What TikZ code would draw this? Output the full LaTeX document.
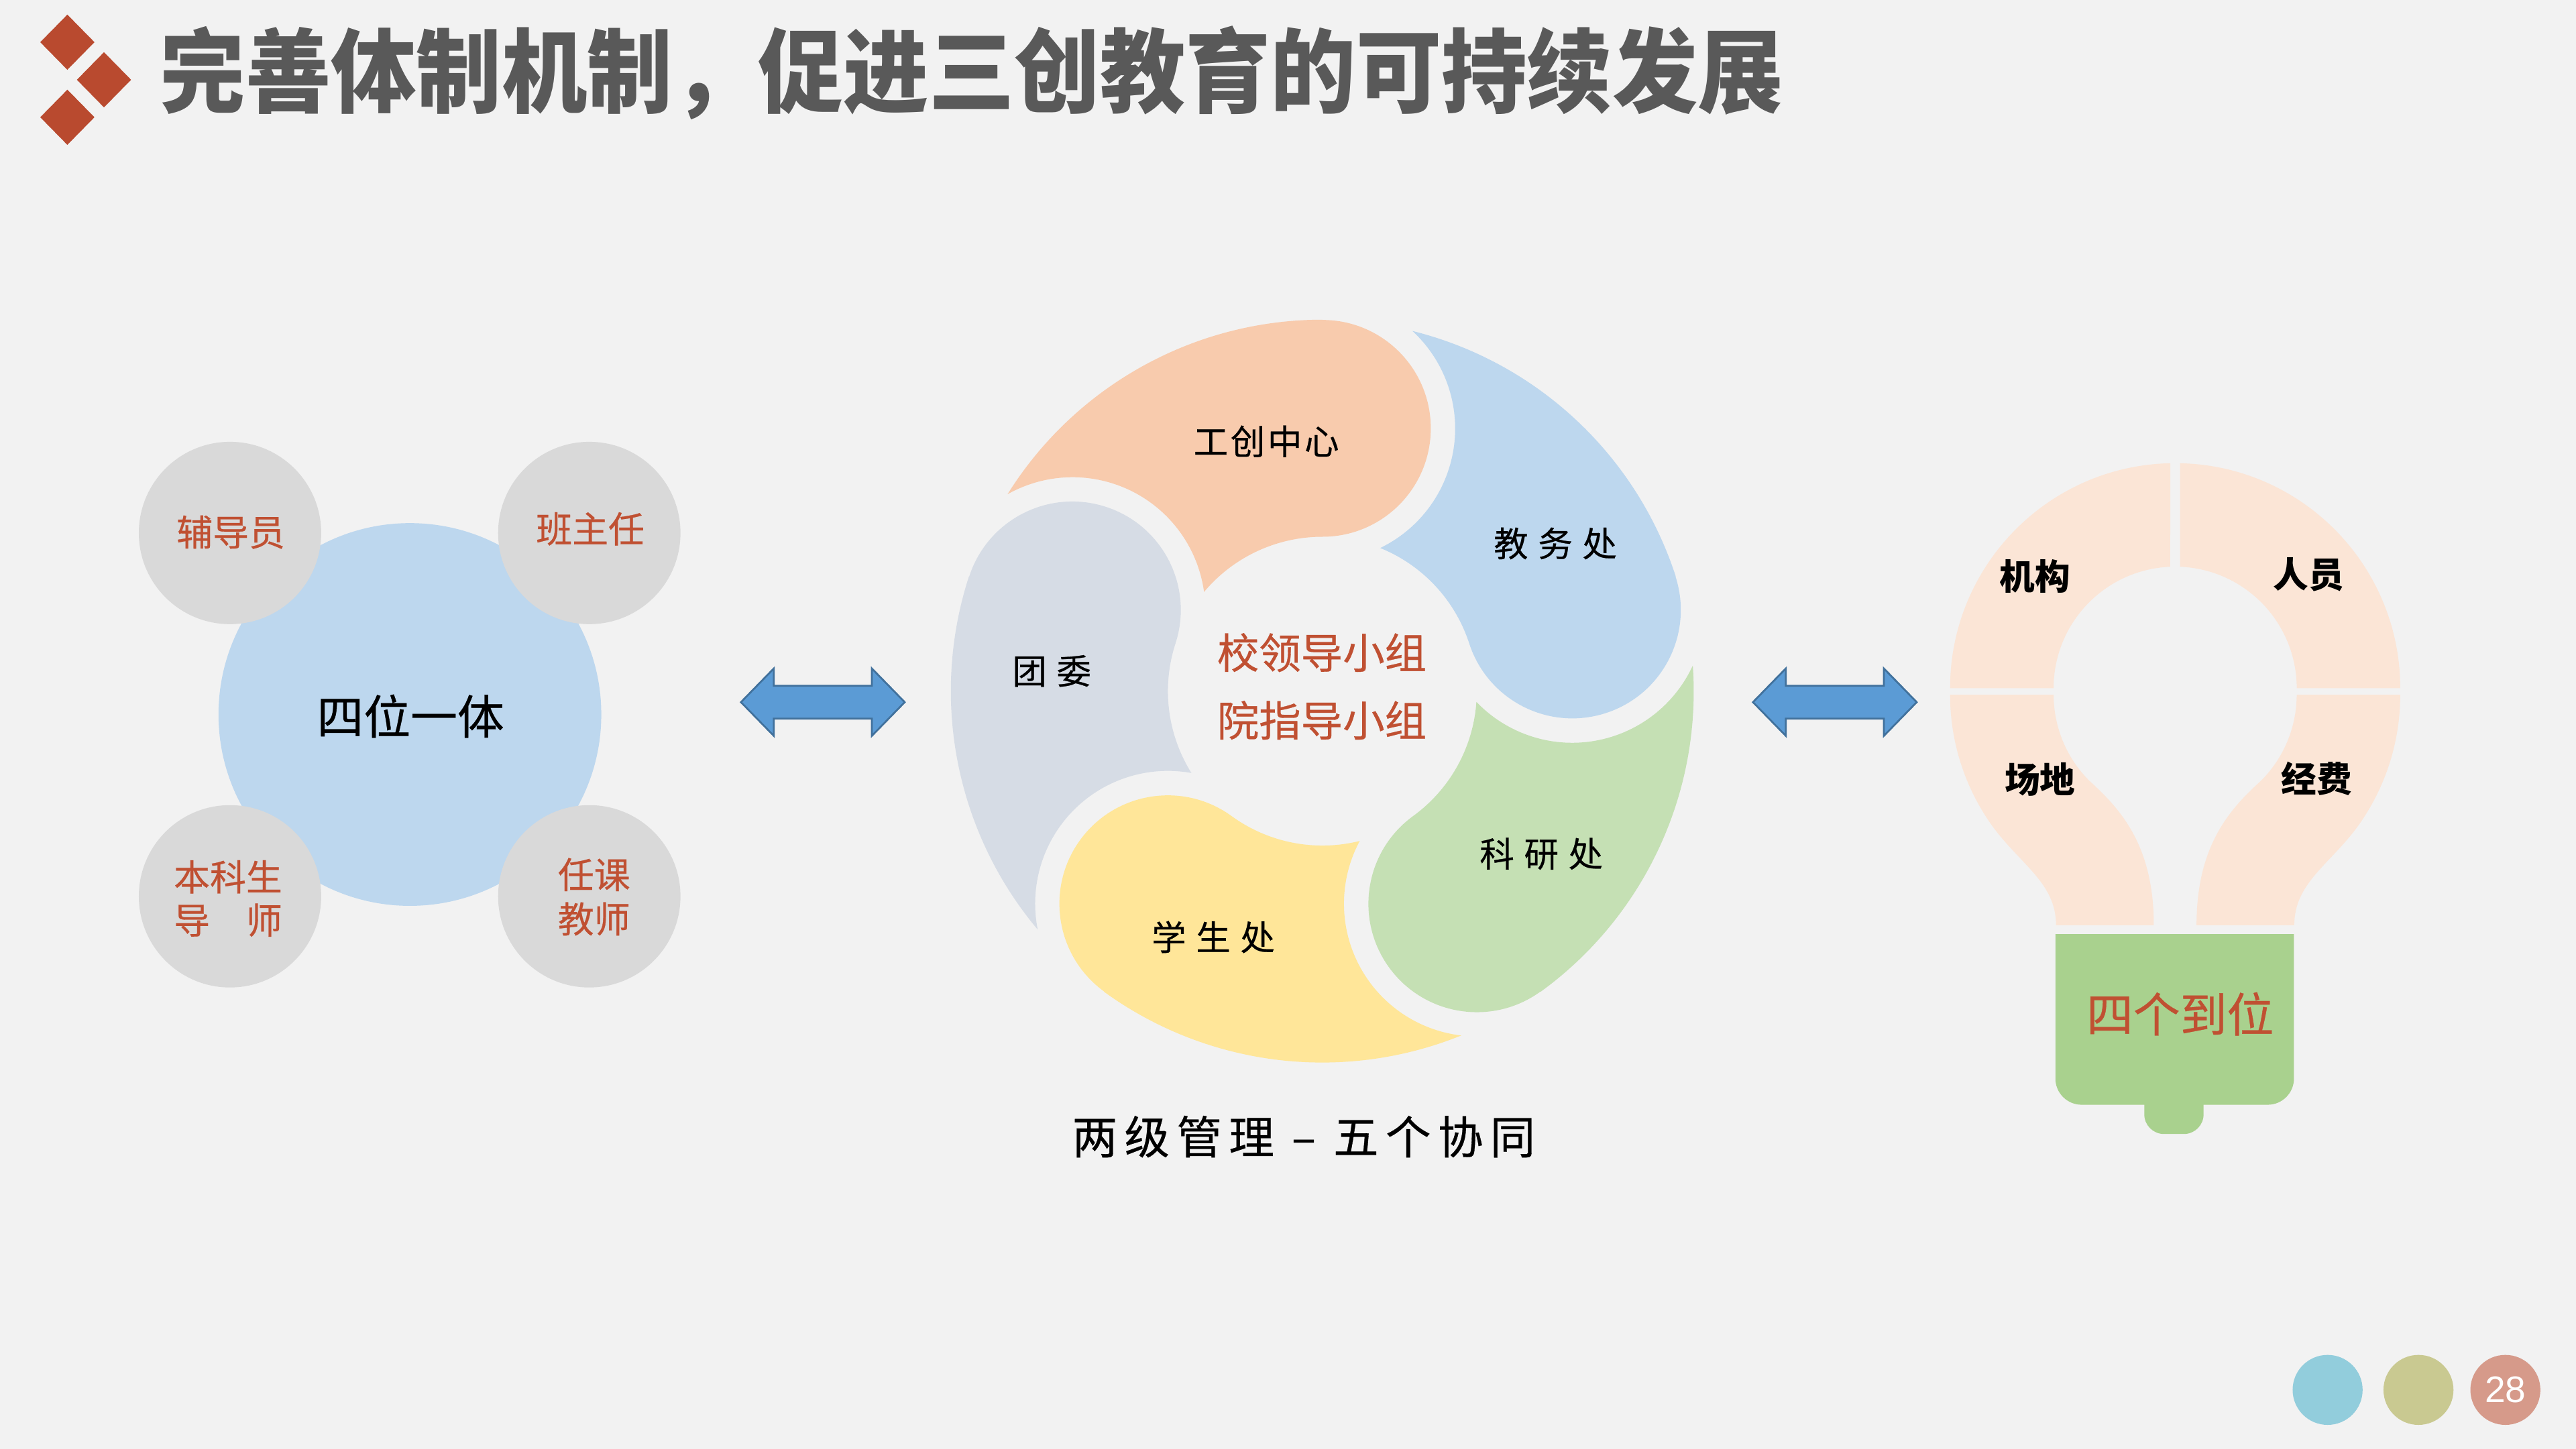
\documentclass[tikz,border=0pt]{standalone}
\usepackage{fontspec}
\usepackage{graphicx}
\newfontfamily\cjk{Noto Sans CJK SC}
\newfontfamily\cjkm[FakeBold=0.5]{Noto Sans CJK SC}
\newfontfamily\numf{Liberation Sans}
\definecolor{bg}{RGB}{242,242,242}
\definecolor{rustd}{RGB}{185,74,47}
\definecolor{rustt}{RGB}{192,80,50}
\definecolor{titlec}{RGB}{89,89,89}
\definecolor{bluec}{RGB}{189,215,238}
\definecolor{grayc}{RGB}{217,217,217}
\definecolor{orangeb}{RGB}{248,203,173}
\definecolor{greenb}{RGB}{197,224,180}
\definecolor{yellowb}{RGB}{255,230,153}
\definecolor{grayb}{RGB}{214,220,229}
\definecolor{peach}{RGB}{251,229,214}
\definecolor{basegreen}{RGB}{169,209,142}
\definecolor{arrowfill}{RGB}{91,155,213}
\definecolor{arrowline}{RGB}{65,113,156}
\definecolor{pcone}{RGB}{146,205,220}
\definecolor{pctwo}{RGB}{201,201,145}
\definecolor{pcthree}{RGB}{214,154,138}
\tikzset{
  txt/.style={inner sep=0pt, outer sep=0pt},
  rusttxt/.style={txt, text=rustt},
  blacktxt/.style={txt, text=black},
  arrowst/.style={fill=arrowfill, draw=arrowline, line width=1.1pt, line join=miter},
}
\newcommand\blade[2]{%
  \fill[#2] (#1:226) arc[start angle=#1, end angle=#1-180, radius=66]
    arc[start angle=#1, end angle=#1+50, radius=94]
    arc[start angle=#1-82.2, end angle=#1+29.3, radius=80.8]
    arc[start angle=#1+58, end angle=#1, radius=226] -- cycle;}
\newcommand\dblarrow[1]{%
  \filldraw[arrowst, shift={(#1,0)}] (451,454.5) -- (471,475) -- (471,464.5) -- (530.7,464.5)
    -- (530.7,475) -- (550.7,454.5) -- (530.7,434) -- (530.7,444.5) -- (471,444.5)
    -- (471,434) -- cycle;}
\newcommand\dmd[2]{%
  \fill[rustd] (#1,#2+16.8) -- (#1+16.5,#2) -- (#1,#2-16.8) -- (#1-16.5,#2) -- cycle;}
\newcommand\bulbtop{%
  \fill[peach] (-137,463) arc[start angle=180, end angle=91.25, radius=137]
    -- (-3,536.94) arc[start angle=92.32, end angle=180, radius=74] -- cycle;}
\newcommand\bulbbottom{%
  \fill[peach] (-137,459) arc[start angle=180, end angle=215, radius=137]
    .. controls (-95,356) and (-72.5,345) .. (-72.5,318.7) -- (-13,318.7)
    .. controls (-13,368) and (-34,390) .. (-52.3,406.7)
    arc[start angle=225, end angle=180, radius=74] -- cycle;}
\newcommand\slotbox[2]{\makebox[#1]{#2}}
\begin{document}
\begin{tikzpicture}[x=1pt,y=1pt]
\useasboundingbox (0,0) rectangle (1568,882);
\fill[bg] (0,0) rectangle (1568,882);

% title
\dmd{41}{856.3}
\dmd{63.3}{833.4}
\dmd{41}{810.6}
\node[txt, text=titlec, font=\cjk\bfseries\fontsize{52}{52}\selectfont] (title) at (591.5,837.5)
  {\scalebox{1}[1.07]{完善体制机制，促进三创教育的可持续发展}};

% left cluster
\fill[bluec] (249.5,447) circle[radius=116.5];
\fill[grayc] (140,557.5) circle[radius=55.5];
\fill[grayc] (358.7,557.5) circle[radius=55.5];
\fill[grayc] (140,336.3) circle[radius=55.5];
\fill[grayc] (358.7,336.3) circle[radius=55.5];
\node[blacktxt, font=\cjkm\fontsize{28.5}{30}\selectfont] (siwei) at (249.9,446) {四位一体};
\node[rusttxt, font=\cjkm\fontsize{22}{26}\selectfont] (fdy) at (140.5,558) {辅导员};
\node[rusttxt, font=\cjkm\fontsize{22}{26}\selectfont] (bzr) at (359.3,560) {班主任};
\node[rusttxt, font=\cjkm\fontsize{22}{26.3}\selectfont, align=center] (bks) at (138.8,335)
  {本科生\\导\hspace{22pt}师};
\node[rusttxt, font=\cjkm\fontsize{22}{27}\selectfont, align=center] (rkjs) at (361.6,336)
  {任课\\教师};

% arrows
\dblarrow{0}
\dblarrow{616}

% cycle
\begin{scope}[shift={(804.9,461.2)}]
  \blade{90}{orangeb}
  \blade{18}{bluec}
  \blade{-54}{greenb}
  \blade{-126}{yellowb}
  \blade{162}{grayb}
\end{scope}
\node[blacktxt, font=\cjkm\fontsize{21}{24}\selectfont] (gczx) at (770.8,613.3)
  {\slotbox{22.5pt}{工}\slotbox{22.5pt}{创}\slotbox{22.5pt}{中}\slotbox{22.5pt}{心}};
\node[blacktxt, font=\cjkm\fontsize{21}{24}\selectfont] (jwc) at (946.7,551.1)
  {\slotbox{27pt}{教}\slotbox{27pt}{务}\slotbox{27pt}{处}};
\node[blacktxt, font=\cjkm\fontsize{21}{24}\selectfont] (kyc) at (938.2,362.2)
  {\slotbox{27pt}{科}\slotbox{27pt}{研}\slotbox{27pt}{处}};
\node[blacktxt, font=\cjkm\fontsize{21}{24}\selectfont] (xsc) at (738.5,311.5)
  {\slotbox{27pt}{学}\slotbox{27pt}{生}\slotbox{27pt}{处}};
\node[blacktxt, font=\cjkm\fontsize{21}{24}\selectfont] (tw) at (640.2,473.5)
  {\slotbox{27pt}{团}\slotbox{27pt}{委}};
\node[rusttxt, font=\cjkm\fontsize{25.5}{28}\selectfont] (xld) at (804.6,484.7) {校领导小组};
\node[rusttxt, font=\cjkm\fontsize{25.5}{28}\selectfont] (yzd) at (804.6,443.5) {院指导小组};
\node[blacktxt, font=\cjkm\fontsize{27.5}{30}\selectfont] (caption) at (793.6,190)
  {\slotbox{31.8pt}{两}\slotbox{31.8pt}{级}\slotbox{31.8pt}{管}\slotbox{31.8pt}{理}\slotbox{31.8pt}{–}\slotbox{31.8pt}{五}\slotbox{31.8pt}{个}\slotbox{31.8pt}{协}\slotbox{31.8pt}{同}};

% light bulb
\begin{scope}[shift={(1324,0)}]
  \bulbtop
  \bulbbottom
\end{scope}
\begin{scope}[shift={(1324,0)}, xscale=-1]
  \bulbtop
  \bulbbottom
\end{scope}
\fill[basegreen] (1251.1,313.3) -- (1396.3,313.3) -- (1396.3,225.4)
  arc[start angle=0, end angle=-90, radius=16] -- (1267.1,209.4)
  arc[start angle=270, end angle=180, radius=16] -- cycle;
\fill[basegreen] (1305.2,212) -- (1305.2,203.6) arc[start angle=180, end angle=270, radius=12]
  -- (1329.3,191.6) arc[start angle=270, end angle=360, radius=12] -- (1341.3,212) -- cycle;
\node[blacktxt, font=\cjk\bfseries\fontsize{21.5}{24}\selectfont] (jg) at (1238.8,531) {机构};
\node[blacktxt, font=\cjk\bfseries\fontsize{21.5}{24}\selectfont] (ry) at (1405.2,532.2) {人员};
\node[blacktxt, font=\cjk\bfseries\fontsize{21.5}{24}\selectfont] (cd) at (1241.7,407.3) {场地};
\node[blacktxt, font=\cjk\bfseries\fontsize{21.5}{24}\selectfont] (jf) at (1410.1,408) {经费};
\node[rusttxt, font=\cjkm\fontsize{28.5}{30}\selectfont] (sgdw) at (1327,264.7) {四个到位};

% page circles
\fill[pcone] (1416.8,35.8) circle[radius=21.3];
\fill[pctwo] (1472.1,35.8) circle[radius=21.3];
\fill[pcthree] (1525,35.8) circle[radius=21.3];
\node[txt, text=white, font=\numf\fontsize{22.5}{24}\selectfont] (pnum) at (1525,35.8) {28};
\end{tikzpicture}
\end{document}
